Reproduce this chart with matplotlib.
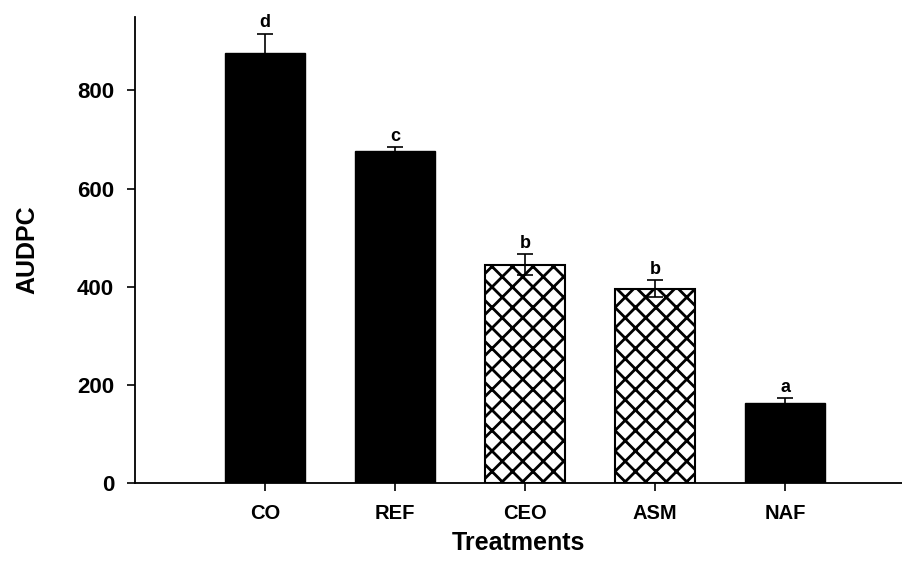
import numpy as np
import matplotlib as mpl
import matplotlib.pyplot as plt

# AUDPC per treatment, with standard error and letter groups
treatments = ['CO', 'REF', 'CEO', 'ASM', 'NAF']
audpc      = [876, 677, 445, 396, 163]
stdErr     = [40, 7, 21, 17, 10]
letters    = ['d', 'c', 'b', 'b', 'a']
hatched    = [False, False, True, True, False]

# hatch spacing follows the dpi, so render at a higher dpi and scale
# point sizes down to keep the same pixel sizes
DPI = 123.5
def pt(v):
    return v * 100.0 / DPI

mpl.rcParams['font.family'] = ['Liberation Sans', 'DejaVu Sans']
mpl.rcParams['font.weight'] = 'bold'
mpl.rcParams['hatch.linewidth'] = pt(2.0)

fig = plt.figure(figsize=(902 / DPI, 561 / DPI), dpi=DPI)
ax = fig.add_axes([0.1497, 0.139, 0.8503, 0.831])

x = np.arange(len(treatments))
for i in range(len(treatments)):
    if hatched[i]:
        ax.bar(x[i], audpc[i], width=0.615, color='white', edgecolor='black',
               hatch='xx', linewidth=pt(1.5), zorder=2)
    else:
        ax.bar(x[i], audpc[i], width=0.615, color='black', edgecolor='black',
               linewidth=pt(1.0), zorder=2)

ax.errorbar(x, audpc, yerr=stdErr, fmt='none', ecolor='black',
            elinewidth=pt(1.2), capsize=pt(6), capthick=pt(1.2), zorder=3)

for i in range(len(treatments)):
    ax.text(x[i], audpc[i] + stdErr[i] + 5, letters[i], ha='center', va='bottom',
            fontsize=pt(13), fontweight='bold')

ax.set_xlim(-1, 4.9)
ax.set_ylim(0, 950)
ax.set_yticks([0, 200, 400, 600, 800])
ax.set_xticks(x)
ax.set_xticklabels(treatments)

for side in ['top', 'right']:
    ax.spines[side].set_visible(False)
for side in ['left', 'bottom']:
    ax.spines[side].set_linewidth(pt(1.3))

ax.tick_params(axis='y', direction='out', length=pt(6), width=pt(1.2), pad=pt(9), labelsize=pt(16))
ax.tick_params(axis='x', direction='out', length=pt(6), width=pt(1.2), pad=pt(9), labelsize=pt(14.5))

ax.set_xlabel('Treatments', fontsize=pt(18), fontweight='bold', labelpad=pt(6))
ax.set_ylabel('AUDPC', fontsize=pt(18), fontweight='bold', labelpad=pt(27))

fig.savefig('out.png', dpi=DPI)
